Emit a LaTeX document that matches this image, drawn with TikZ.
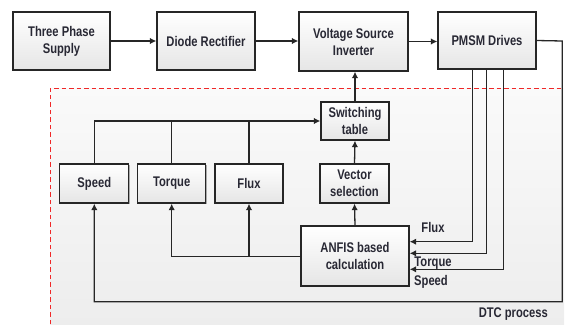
\documentclass[tikz,border=0pt]{standalone}
\usepackage{fontspec}
\setmainfont{Liberation Sans}[FakeStretch=0.8]
\usetikzlibrary{arrows.meta,shadows}
\definecolor{txt}{RGB}{40,40,52}
\definecolor{dtcred}{RGB}{240,40,40}
\begin{document}
\begin{tikzpicture}[x=1pt,y=-1pt,
  blk/.style={draw=black!85, line width=1.3pt, top color=white, bottom color=black!10,
    align=center, font=\bfseries\fontsize{14}{17}\selectfont, text=txt,
    drop shadow={shadow xshift=1pt, shadow yshift=-1pt, opacity=0.3, fill=black}},
  conn/.style={draw=black!85, line width=1.3pt},
  arr/.style={conn, -{Latex[length=6.5pt,width=6.5pt]}},
  lbl/.style={font=\bfseries\fontsize{14}{15}\selectfont, text=txt, inner sep=0pt}]
\useasboundingbox (0,0) rectangle (567,324);

% DTC process region
\shade[top color=black!2, bottom color=black!7] (50,88) rectangle (564,324);
\draw[dtcred, line width=0.8pt, dash pattern=on 4.5pt off 3pt] (50,324) -- (50,88) -- (564,88);

% blocks
\node[blk, minimum width=97pt, minimum height=58pt] (tps) at (61.5,41) {Three Phase\\Supply};
\node[blk, minimum width=98pt, minimum height=58pt] (dr) at (206,41) {Diode Rectifier};
\node[blk, minimum width=109pt, minimum height=59pt] (vsi) at (353.5,41.5) {Voltage Source\\Inverter};
\node[blk, minimum width=98pt, minimum height=57pt] (pmsm) at (487,40.5) {PMSM Drives};
\node[blk, minimum width=68pt, minimum height=38pt] (sw) at (355,121) {Switching\\table};
\node[blk, minimum width=69pt, minimum height=39pt] (vs) at (354.5,183.5) {Vector\\selection};
\node[blk, minimum width=69pt, minimum height=39pt] (speed) at (94.3,183.5) {Speed};
\node[blk, minimum width=68pt, minimum height=39pt] (torque) at (171.7,183.5) {Torque};
\node[blk, minimum width=68pt, minimum height=39pt] (flux) at (249,183.5) {Flux};
\node[blk, minimum width=108pt, minimum height=60pt] (anfis) at (355,256) {ANFIS based\\calculation};

% power path
\draw[arr] (tps.east) -- (dr.west);
\draw[arr] (dr.east) -- (dr.east -| vsi.west);
\draw[arr] (vsi.east) -- (vsi.east -| pmsm.west);

% control chain
\draw[arr] (sw.north) -- (sw.north |- vsi.south);
\draw[arr] (vs.north) -- (sw.south);
\draw[arr] (anfis.north) -- (vs.south);

% estimates into switching table
\draw[arr] (speed.north) |- (sw.west);
\draw[conn] (torque.north) -- (torque.north |- sw.west);
\draw[conn] (flux.north) -- (flux.north |- sw.west);

% ANFIS outputs to torque and flux
\coordinate (aout) at ([yshift=-0.7pt]anfis.west);
\draw[arr] (aout) -| (torque.south);
\coordinate (fb) at (flux.south |- aout);
\draw[arr] (fb) -- (flux.south);

% measured signals from the drive
\coordinate (m1) at ([xshift=-14.7pt]pmsm.south);
\coordinate (m2) at ([xshift=-0.3pt]pmsm.south);
\coordinate (m3) at ([xshift=16.3pt]pmsm.south);
\draw[arr] (m1) |- ([yshift=14.3pt]anfis.east);
\draw[arr] (m2) |- ([yshift=2.7pt]anfis.east);
\draw[arr] (m3) |- ([yshift=-13.3pt]anfis.east);

% speed feedback loop
\coordinate (c1) at (562.3,41);
\coordinate (c2) at (562.3,301.7);
\draw[arr] (pmsm.east) -- (c1) -- (c2) -| (speed.south);

% labels
\node[lbl] (lflux) at (433,227) {Flux};
\node[lbl] (ltorque) at (433,262.7) {Torque};
\node[lbl] (lspeed) at (431,281.7) {Speed};
\node[lbl] (ldtc) at (513.3,314.3) {DTC process};
\end{tikzpicture}
\end{document}
